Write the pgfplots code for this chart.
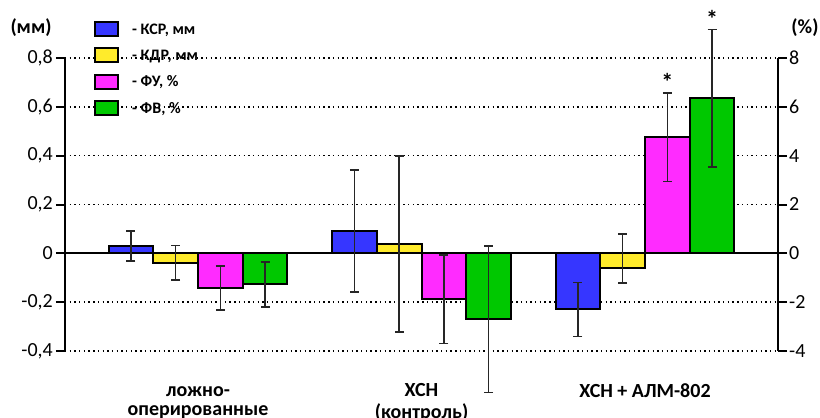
\documentclass[border=0pt]{standalone}
\usepackage{fontspec}
\setmainfont{Carlito}
\usepackage{pgfplots}
\pgfplotsset{compat=1.18}

\definecolor{cBlue}{RGB}{54,54,255}
\definecolor{cYellow}{RGB}{255,235,43}
\definecolor{cPink}{RGB}{255,43,255}
\definecolor{cGreen}{RGB}{0,200,0}

\pgfplotsset{
  common/.style={
    width=713pt, height=293pt, scale only axis,
    xmin=-0.595, xmax=2.595, clip=false,
    /pgf/number format/assume math mode=true,
    tick align=outside, major tick length=9pt,
    axis line style={line width=2pt, black},
    ytick style={line width=2pt, black},
    yticklabel style={font=\fontsize{20}{24}\selectfont, inner sep=3pt},
  },
  errb/.style={error bars/.cd, y dir=both, y explicit,
    error bar style={line width=1.6pt, black!85},
    error mark options={rotate=90, mark size=4.5pt, line width=1.6pt, black!85}},
  barsty/.style={ybar, bar width=0.2, bar shift=0pt, draw=black, line width=2pt, forget plot},
}

\begin{document}
\begin{tikzpicture}
\begin{axis}[common, name=main,
  ymin=-0.4, ymax=0.8,
  axis y line*=left, axis x line*=bottom,
  x axis line style={draw=none},
  xtick={0,1,2}, xtick style={draw=none},
  xticklabels={{\strut ложно-\\оперированные},{\strut ХСН\\(контроль)},{\strut ХСН + АЛМ-802}},
  xticklabel style={font=\bfseries\fontsize{20}{19}\selectfont, align=center, inner sep=0pt, yshift=-23pt},
  ytick={-0.4,-0.2,0.2,0.4,0.6,0.8},
  extra y ticks={0},
  extra y tick style={ymajorgrids=true, major grid style={solid, black, line width=2pt}},
  ymajorgrids=true,
  major grid style={black, line width=1.4pt, dash pattern=on 1.4pt off 3.3pt},
  /pgf/number format/.cd, fixed, precision=1, use comma, /pgfplots/.cd,
  legend style={draw=none, fill=none, at={(0.0407,1.127)}, anchor=north west,
    inner sep=0pt, outer sep=0pt, row sep=10.2pt, column sep=13pt,
    font=\bfseries\fontsize{16}{19}\selectfont,
    nodes={inner sep=0pt, text height=12.2pt, text depth=1.8pt}},
  legend cell align=left,
  legend image code/.code={\draw[#1, line width=2.2pt] (0pt,-7pt) rectangle (23pt,7pt);},
]
\addlegendimage{fill=cBlue, draw=black}
\addlegendentry{- КСР, мм}
\addlegendimage{fill=cYellow, draw=black}
\addlegendentry{- КДР, мм}
\addlegendimage{fill=cPink, draw=black}
\addlegendentry{- ФУ, \%}
\addlegendimage{fill=cGreen, draw=black}
\addlegendentry{- ФВ, \%}

% КСР, mm (bars at group - 0.3)
\addplot[barsty, fill=cBlue, errb] coordinates {
  (-0.3,0.030) +- (0,0.062)
  (0.7,0.092) +- (0,0.25)
  (1.7,-0.230) +- (0,0.11)
};
% КДР, mm (bars at group - 0.1)
\addplot[barsty, fill=cYellow, errb] coordinates {
  (-0.1,-0.039) +- (0,0.071)
  (0.9,0.038) +- (0,0.36)
  (1.9,-0.059) += (0,0.137) -= (0,0.062)
};
\node[font=\bfseries\fontsize{20}{22}\selectfont, anchor=base, xshift=-34pt, yshift=24pt] at (rel axis cs:0,1) {(мм)};
\end{axis}

\begin{axis}[common,
  ymin=-4, ymax=8,
  axis y line*=right, axis x line=none,
  ytick={-4,-2,0,2,4,6,8},
  yticklabel style={inner sep=2pt},
]
% ФУ, % (bars at group + 0.1)
\addplot[barsty, fill=cPink, errb] coordinates {
  (0.1,-1.41) +- (0,0.90)
  (1.1,-1.89) +- (0,1.81)
  (2.1,4.76) +- (0,1.81)
};
% ФВ, % (bars at group + 0.3)
\addplot[barsty, fill=cGreen, errb] coordinates {
  (0.3,-1.27) +- (0,0.92)
  (1.3,-2.70) +- (0,3.00)
  (2.3,6.35) +- (0,2.81)
};
\node[font=\bfseries\fontsize{24}{26}\selectfont, anchor=base, yshift=2pt] at (axis cs:2.1,6.57) {*};
\node[font=\bfseries\fontsize{24}{26}\selectfont, anchor=base, yshift=2pt] at (axis cs:2.3,9.16) {*};
\node[font=\bfseries\fontsize{20}{22}\selectfont, anchor=base, xshift=27pt, yshift=24pt] at (rel axis cs:1,1) {(\%)};
\end{axis}

\pgfresetboundingbox
\path ([shift={(-65pt,-66pt)}]main.south west) rectangle ([shift={(42pt,58pt)}]main.north east);
\end{tikzpicture}
\end{document}
